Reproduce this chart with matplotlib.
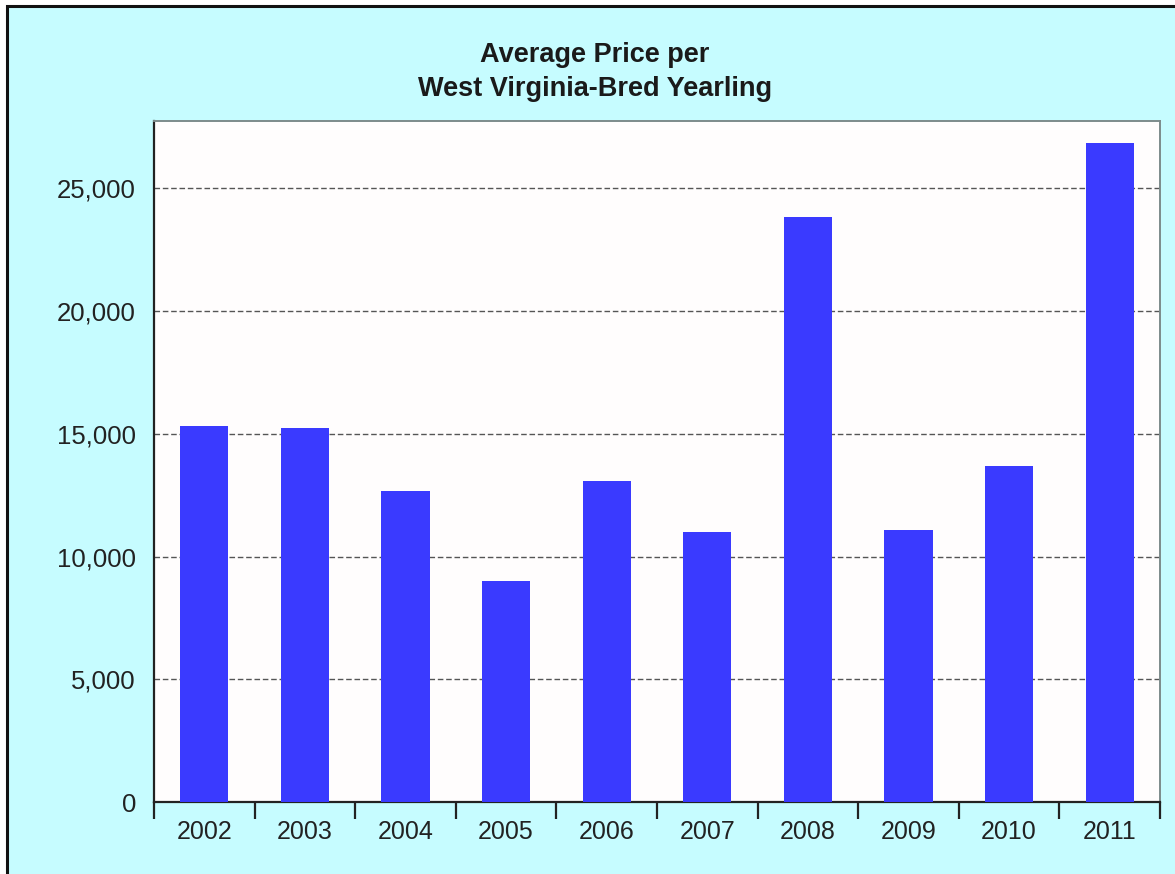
import numpy as np
import matplotlib
matplotlib.use("Agg")
import matplotlib.pyplot as plt
from matplotlib.patches import Rectangle
from matplotlib.ticker import FuncFormatter, FixedLocator

# Average sale price per yearling, by year
years = ["2002", "2003", "2004", "2005", "2006",
         "2007", "2008", "2009", "2010", "2011"]
avg_price = [15330, 15220, 12690, 9010, 13100,
             11000, 23820, 11090, 13700, 26850]
y_ticks = [0, 5000, 10000, 15000, 20000, 25000]

plt.rcParams['font.family'] = ['Liberation Sans', 'DejaVu Sans']

fig = plt.figure(figsize=(11.75, 8.74), dpi=100, facecolor='white')

# cyan panel with a black frame (right/bottom run off the canvas)
panel = Rectangle((7 / 1175, -0.05), 1.1, 1 - 6 / 874 + 0.05,
                  transform=fig.transFigure, facecolor='#c6fcff',
                  edgecolor='#111111', linewidth=2.2, zorder=-1)
fig.patches.append(panel)

ax = fig.add_axes([154 / 1175, 72 / 874, 1006 / 1175, 681 / 874])
ax.set_facecolor('#fffdfd')

x = np.arange(len(years))
ax.bar(x, avg_price, width=0.48, color='#3a3aff', zorder=3)

ax.set_xlim(-0.5, len(years) - 0.5)
ax.set_ylim(0, 27750)

# y axis: labels only, dashed grid
ax.set_yticks(y_ticks)
ax.yaxis.set_major_formatter(FuncFormatter(lambda v, p: f'{int(v):,}'))
ax.tick_params(axis='y', length=0, pad=13, labelsize=18.5, labelcolor='#222222')
for v in y_ticks[1:]:
    ax.axhline(v, color='#555555', linewidth=1.0, linestyle=(0, (4, 2)), zorder=2)

# x axis: labels centred on bars, tick marks between categories
ax.set_xticks(x)
ax.set_xticklabels(years)
ax.xaxis.set_minor_locator(FixedLocator(np.arange(-0.5, len(years), 1.0)))
ax.tick_params(axis='x', which='major', length=0, pad=13, labelsize=18,
               labelcolor='#222222')
ax.tick_params(axis='x', which='minor', length=12, width=1.6,
               color='#222222', direction='out')

ax.spines['left'].set_color('#222222')
ax.spines['bottom'].set_color('#222222')
ax.spines['left'].set_linewidth(1.6)
ax.spines['bottom'].set_linewidth(1.6)
ax.spines['top'].set_color('#7d8b8b')
ax.spines['right'].set_color('#7d8b8b')
ax.spines['top'].set_linewidth(1.4)
ax.spines['right'].set_linewidth(1.4)

fig.text(595 / 1175, 1 - 72 / 874,
         'Average Price per\nWest Virginia-Bred Yearling',
         ha='center', va='center', fontsize=19.5, fontweight='bold',
         color='#1a1a1a', linespacing=1.45)

fig.savefig('out.png', dpi=100, facecolor=fig.get_facecolor())
